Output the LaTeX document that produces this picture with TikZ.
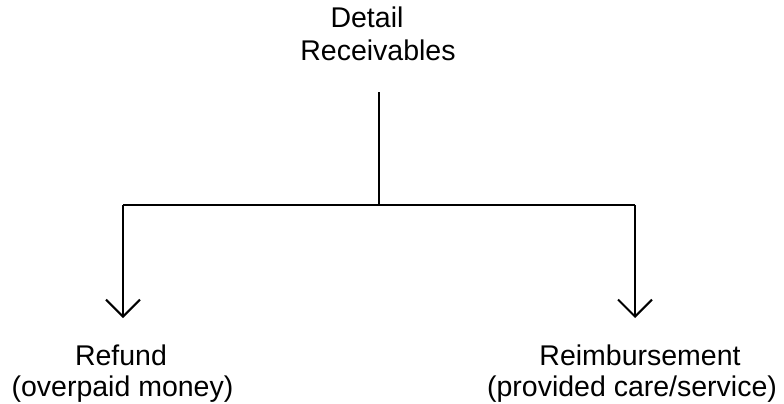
\documentclass[tikz,border=0pt]{standalone}
\usepackage{fontspec}
\setmainfont{Liberation Sans}
\usetikzlibrary{arrows.meta}
\begin{document}
\begin{tikzpicture}[x=1pt,y=-1pt,
  lbl/.style={anchor=base,inner sep=0pt,font=\fontsize{28.5}{32}\selectfont},
  conn/.style={line width=2pt},
  arr/.style={conn,-{Straight Barb[length=17pt,width=34pt,line width=2pt]}}]
\useasboundingbox (0,0) rectangle (784,404);
\node[lbl] (t1) at (367,28) {Detail};
\node[lbl] (t2) at (378,61) {Receivables};
\node[lbl] (l1) at (121,365) {Refund};
\node[lbl] (l2) at (122.5,396) {(overpaid money)};
\node[lbl] (r1) at (640,365) {Reimbursement};
\node[lbl] (r2) at (632,396) {(provided care/service)};
\coordinate (top) at (379,92);
\coordinate (mid) at (379,205);
\coordinate (lc) at (123,205);
\coordinate (rc) at (635,205);
\coordinate (lt) at (123,318);
\coordinate (rt) at (635,318);
\draw[conn] (top) -- (mid);
\draw[conn] (lc) -- (rc);
\draw[arr] (lc) -- (lt);
\draw[arr] (rc) -- (rt);
\end{tikzpicture}
\end{document}
